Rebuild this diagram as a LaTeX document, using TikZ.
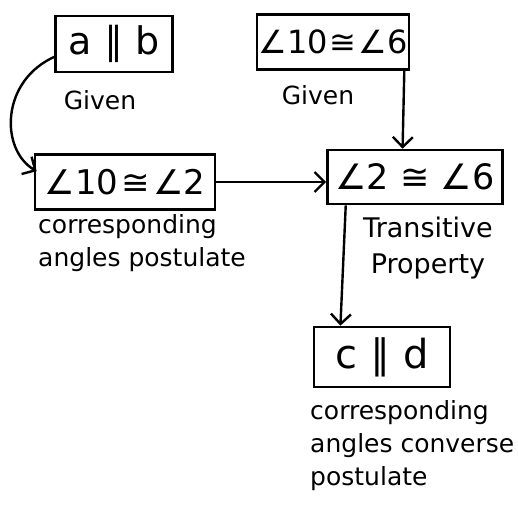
\documentclass[tikz,border=0pt]{standalone}
\usepackage{fontspec}
\setmainfont{DejaVu Sans}
\usetikzlibrary{calc,arrows.meta}
\begin{document}
\begin{tikzpicture}[x=1pt,y=-1pt,
  stmt/.style={draw,line width=2.6pt,inner sep=0pt},
  reason/.style={font=\fontsize{25}{33}\selectfont,align=left,inner sep=0pt},
  conn/.style={line width=2.4pt,-{Straight Barb[length=10pt,width=20pt]}}]
\useasboundingbox (0,0) rectangle (518,506);
\node[stmt,minimum width=117pt,minimum height=56pt,font=\fontsize{38}{40}\selectfont] (ab) at (114,44) {a ∥ b};
\node[reason] (g1) at (100,100) {Given};
\node[stmt,minimum width=152pt,minimum height=55pt,font=\fontsize{32}{34}\selectfont] (s2) at (333,42) {∠10\kern2pt≅\kern2pt∠6};
\node[reason] (g2) at (318,95) {Given};
\node[stmt,minimum width=180pt,minimum height=55pt,font=\fontsize{34}{36}\selectfont] (s1) at (125,182) {∠10\kern3pt≅\kern3pt∠2};
\node[reason,anchor=north west] (r1) at (38,214) {corresponding\\angles postulate};
\node[stmt,minimum width=175pt,minimum height=54pt,font=\fontsize{35}{37}\selectfont] (s3) at (415,177) {∠2 ≅ ∠6};
\node[reason,align=center,font=\fontsize{27}{36}\selectfont] (r3) at (428,248) {Transitive\\Property};
\node[stmt,minimum width=136pt,minimum height=60pt,font=\fontsize{40}{42}\selectfont] (s4) at (382,357) {c ∥ d};
\node[reason,anchor=north west] (r4) at (310,400) {corresponding\\angles converse\\postulate};
\draw[conn] ($(ab.west)+(2,12)$) .. controls (0,80) and (0,150) .. ($(s1.north west)+(3,18)$);
\draw[conn] (s1.east) -- (s1.east -| s3.west);
\draw[conn] ($(s2.south east)+(-6,0)$) -- ($(s3.north west)!0.43!(s3.north east)$);
\draw[conn] ($(s3.south west)!0.11!(s3.south east)$) -- ($(s4.north west)!0.2!(s4.north east)$);
\end{tikzpicture}
\end{document}
